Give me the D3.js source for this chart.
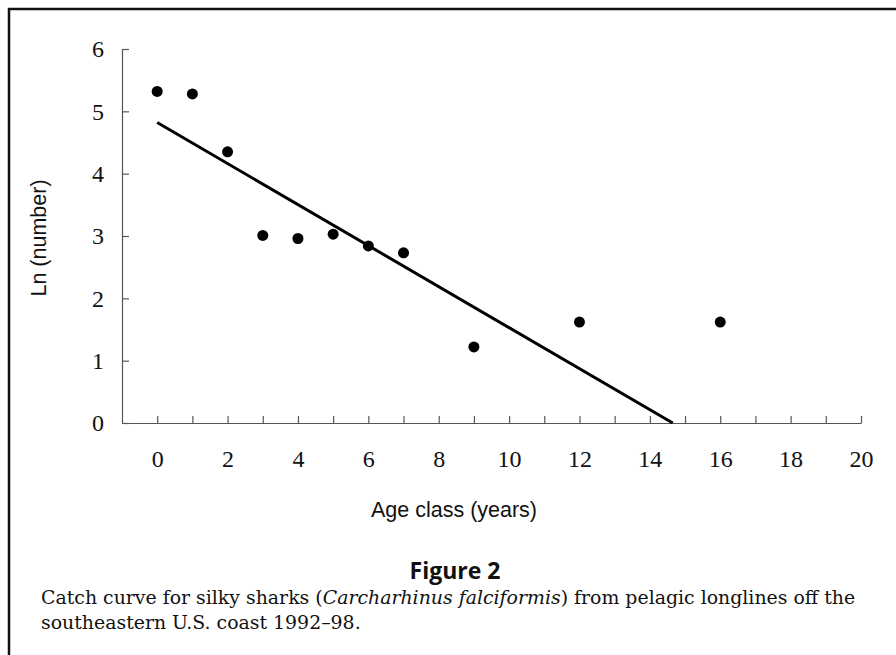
<!DOCTYPE html>
<html>
<head>
<meta charset="utf-8">
<script src="https://cdn.jsdelivr.net/npm/d3@7/dist/d3.min.js"></script>
<style>
  html, body { margin: 0; padding: 0; background: #fff; }
  svg { display: block; }
</style>
</head>
<body>
<svg id="chart" width="896" height="655"></svg>
<script>
// ---- Data ----
const ageClass   = [0, 1, 2, 3, 4, 5, 6, 7, 9, 12, 16];
const lnNumber   = [5.32, 5.28, 4.35, 3.01, 2.96, 3.03, 2.84, 2.73, 1.22, 1.62, 1.62];
const fitAge     = [0, 14.65];
const fitLn      = [4.82, 0];
const xTickVals  = d3.range(0, 21);          // ticks every year
const xTickLabels = [0, 2, 4, 6, 8, 10, 12, 14, 16, 18, 20];
const yTickVals  = [0, 1, 2, 3, 4, 5, 6];
const xTitle = "Age class (years)";
const yTitle = "Ln (number)";
const figTitle = "Figure 2";

const svg = d3.select("#chart");

// frame (top and left rule, as in the scan)
svg.append("path")
  .attr("d", "M9,655 L9,9 L896,9")
  .attr("fill", "none").attr("stroke", "#111").attr("stroke-width", 2.5);

const x = d3.scaleLinear().domain([-1, 20]).range([122, 861]);
const y = d3.scaleLinear().domain([0, 6]).range([423, 49]);

const serif = "'Liberation Serif', 'Times New Roman', serif";
const sans = "'Liberation Sans', Arial, sans-serif";

// Y axis
const yAxis = d3.axisLeft(y).tickValues(yTickVals).tickSizeInner(-7).tickSizeOuter(0).tickPadding(18)
  .tickFormat(d3.format("d"));
const gy = svg.append("g").attr("transform", `translate(${x(-1)},0)`).call(yAxis);

// X axis
const xAxis = d3.axisBottom(x).tickValues(xTickVals).tickSizeInner(-7).tickSizeOuter(0).tickPadding(27)
  .tickFormat(d => xTickLabels.includes(d) ? String(d) : "");
const gx = svg.append("g").attr("transform", `translate(0,${y(0)})`).call(xAxis);

[gx, gy].forEach(g => {
  g.select(".domain").attr("stroke", "#555").attr("stroke-width", 1.2);
  g.selectAll(".tick line").attr("stroke", "#555").attr("stroke-width", 1.2);
  g.selectAll(".tick text").attr("fill", "#111").style("font-family", serif).style("font-size", "24px");
});

// fitted line
svg.append("path")
  .datum(fitAge.map((a, i) => [a, fitLn[i]]))
  .attr("d", d3.line().x(d => x(d[0])).y(d => y(d[1])))
  .attr("fill", "none").attr("stroke", "#000").attr("stroke-width", 3);

// points
svg.append("g").selectAll("circle")
  .data(ageClass.map((a, i) => ({a, v: lnNumber[i]})))
  .join("circle")
  .attr("cx", d => x(d.a)).attr("cy", d => y(d.v)).attr("r", 5.5)
  .attr("fill", "#000");

// axis titles
svg.append("text")
  .attr("x", 454).attr("y", 517)
  .attr("text-anchor", "middle")
  .style("font-family", sans).style("font-size", "21.5px").attr("fill", "#111")
  .text(xTitle);

svg.append("text")
  .attr("transform", "translate(46,238) rotate(-90)")
  .attr("text-anchor", "middle")
  .style("font-family", sans).style("font-size", "21.5px").attr("fill", "#111")
  .text(yTitle);

// figure title
svg.append("text")
  .attr("x", 455).attr("y", 579)
  .attr("text-anchor", "middle")
  .style("font-family", "'Open Sans', 'Noto Sans', sans-serif").style("font-weight", "700").style("font-size", "23px")
  .attr("fill", "#111")
  .text(figTitle);

// caption
const cap1 = svg.append("text").attr("x", 41).attr("y", 604)
  .style("font-family", "'DejaVu Serif', serif").style("font-size", "18.9px").attr("fill", "#111");
cap1.append("tspan").text("Catch curve for silky sharks (");
cap1.append("tspan").style("font-style", "italic").text("Carcharhinus falciformis");
cap1.append("tspan").text(") from pelagic longlines off the");

svg.append("text").attr("x", 41).attr("y", 629)
  .style("font-family", "'DejaVu Serif', serif").style("font-size", "18.9px").attr("fill", "#111")
  .text("southeastern U.S. coast 1992\u201398.");
</script>
</body>
</html>
